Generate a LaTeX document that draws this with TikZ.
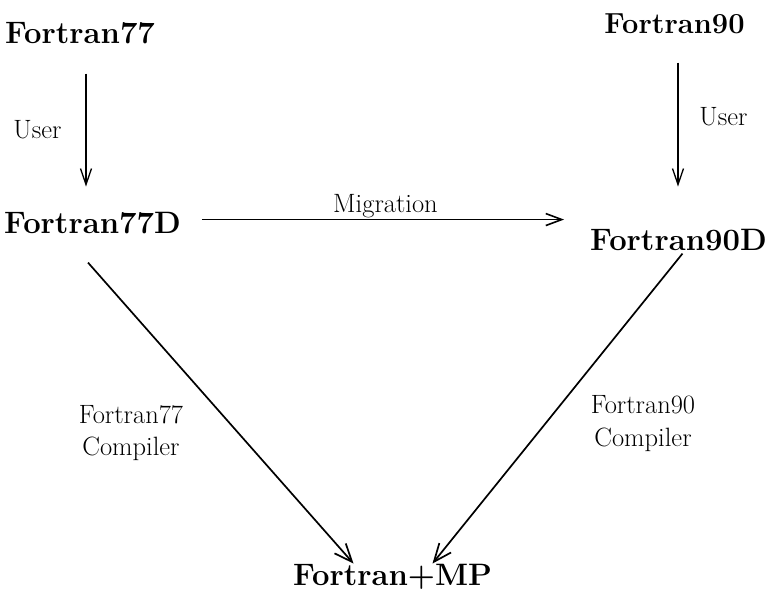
\documentclass[tikz,border=0pt]{standalone}
\usetikzlibrary{arrows.meta}
\begin{document}
\begin{tikzpicture}[x=1pt,y=-1pt,
  bignode/.style={inner sep=0pt,anchor=base,font=\fontsize{31}{37}\selectfont\bfseries},
  lbl/.style={inner sep=0pt,font=\fontsize{26.5}{32}\selectfont},
  arr/.style={line width=1.3pt,-{Straight Barb[length=16pt,width=11pt,line width=1.3pt]}},
  diag/.style={line width=1.7pt,-{Straight Barb[length=18pt,width=15pt,line width=1.7pt]}}]
\useasboundingbox (0,0) rectangle (771,613);
% main nodes
\node[bignode] (f77) at (80,43) {Fortran77};
\node[bignode] (f77d) at (92.5,233) {Fortran77D};
\node[bignode,font=\fontsize{29}{35}\selectfont\bfseries] (f90) at (674.5,33) {Fortran90};
\node[bignode] (f90d) at (678.5,250) {Fortran90D};
\node[bignode] (fmp) at (392.5,585) {Fortran+MP};
% labels
\node[lbl,anchor=base] (u1) at (37.5,138) {User};
\node[lbl,anchor=base] (u2) at (723.5,125) {User};
\node[lbl,anchor=north,align=center] (c77) at (131,405) {Fortran77\\Compiler};
\node[lbl,anchor=north,align=center,font=\fontsize{26.5}{33}\selectfont] (c90) at (643,395) {Fortran90\\Compiler};
% connectors
\draw[arr] ([xshift=6pt,yshift=-30pt]f77.south) -- ([xshift=-6.5pt,yshift=25pt]f77d.north);
\draw[arr] ([xshift=3.5pt,yshift=-29pt]f90.south) -- ([xshift=-0.5pt,yshift=42pt]f90d.north);
\draw[line width=1.6pt,-{Straight Barb[length=16pt,width=12pt,line width=1.6pt]},shorten <=21pt,shorten >=26pt]
  ([yshift=3pt]f77d.east) -- ([yshift=3pt]f77d.east -| f90d.west)
  node[lbl,midway,anchor=base,yshift=7pt] (mig) {Migration};
\draw[diag] ([xshift=-4.5pt,yshift=-29pt]f77d.south) -- ([xshift=-39pt]fmp.north);
\draw[diag] ([xshift=4pt,yshift=-3pt]f90d.south) -- ([xshift=40pt]fmp.north);
\end{tikzpicture}
\end{document}
